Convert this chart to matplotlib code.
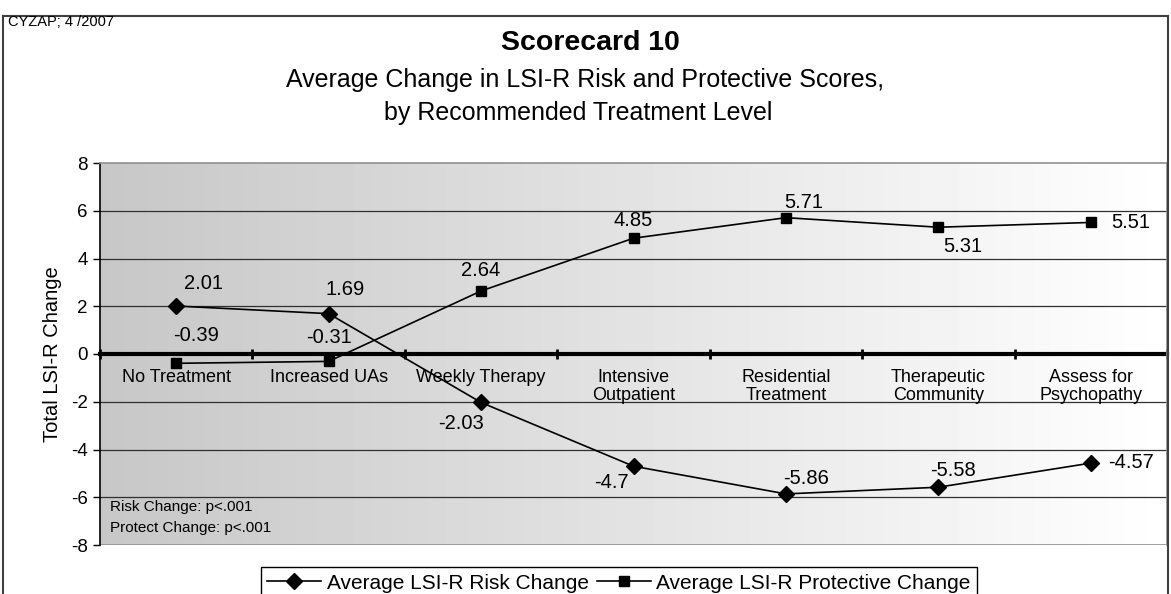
import numpy as np
import matplotlib
matplotlib.use("Agg")
from matplotlib import pyplot as plt
from matplotlib.lines import Line2D

plt.rcParams['font.family'] = ['Liberation Sans', 'DejaVu Sans']
plt.rcParams['axes.unicode_minus'] = False

# data
categories = ["No Treatment", "Increased UAs", "Weekly Therapy", "Intensive\nOutpatient",
              "Residential\nTreatment", "Therapeutic\nCommunity", "Assess for\nPsychopathy"]
risk_change = [2.01, 1.69, -2.03, -4.7, -5.86, -5.58, -4.57]
protect_change = [-0.39, -0.31, 2.64, 4.85, 5.71, 5.31, 5.51]
risk_labels = ["2.01", "1.69", "-2.03", "-4.7", "-5.86", "-5.58", "-4.57"]
protect_labels = ["-0.39", "-0.31", "2.64", "4.85", "5.71", "5.31", "5.51"]
y_ticks = [-8, -6, -4, -2, 0, 2, 4, 6, 8]

# label offsets in pixels (dx, dy)
risk_offsets = [(27, 23), (16, 24), (-20, -21), (-22, -16), (20, 15), (15, 17), (40, 1)]
protect_offsets = [(20, 28), (0, 24), (0, 20), (0, 18), (18, 15), (24, -19), (40, 0)]

fig = plt.figure(figsize=(11.71, 5.94), dpi=100)
ax = fig.add_axes([100/1171, 1-545/594, 1067/1171, 382/594])

x = np.arange(len(categories))
ax.set_xlim(-0.5, len(categories) - 0.5)
ax.set_ylim(-8, 8)

# gray to white gradient background
grad = np.linspace(0.78, 1.0, 256).reshape(1, -1)
ax.imshow(grad, extent=[-0.5, len(categories) - 0.5, -8, 8], aspect='auto',
          cmap='gray', vmin=0, vmax=1, zorder=0)

for yv in y_ticks:
    if yv not in (0, -8, 8):
        ax.axhline(yv, color='#303030', linewidth=0.9, zorder=1)
ax.axhline(-8, color='#909090', linewidth=1.2, zorder=1)

ax.plot(x, risk_change, color='black', linewidth=1.2, marker='D', markersize=8, zorder=3)
ax.plot(x, protect_change, color='black', linewidth=1.2, marker='s', markersize=7.5, zorder=3)

for xi, v, lab, (dx, dy) in zip(x, risk_change, risk_labels, risk_offsets):
    ax.annotate(lab, (xi, v), xytext=(dx, dy), textcoords='offset pixels',
                ha='center', va='center', fontsize=14.5, zorder=4)
for xi, v, lab, (dx, dy) in zip(x, protect_change, protect_labels, protect_offsets):
    ax.annotate(lab, (xi, v), xytext=(dx, dy), textcoords='offset pixels',
                ha='center', va='center', fontsize=14.5, zorder=4)

# axes styling
ax.spines['bottom'].set_position(('data', 0))
ax.spines['bottom'].set_linewidth(3)
ax.spines['bottom'].set_zorder(2)
ax.spines['left'].set_linewidth(1.2)
for s in ('top', 'right'):
    ax.spines[s].set_color('#909090')
    ax.spines[s].set_linewidth(1.2)

ax.set_yticks(y_ticks)
ax.tick_params(axis='y', direction='out', length=5, width=1, labelsize=13.5, pad=4)
ax.set_xticks(np.arange(len(categories) + 1) - 0.5)
ax.set_xticklabels([])
ax.tick_params(axis='x', which='major', direction='inout', length=7, width=2)
ax.set_xticks(x, minor=True)
ax.set_xticklabels(categories, minor=True, fontsize=13, linespacing=1.05)
ax.tick_params(axis='x', which='minor', length=0, pad=11)

ax.set_ylabel("Total LSI-R Change", fontsize=14.5, labelpad=6)

ax.text(10/1067, 0.0995, "Risk Change: p<.001", transform=ax.transAxes, fontsize=11, va='center')
ax.text(10/1067, 0.0445, "Protect Change: p<.001", transform=ax.transAxes, fontsize=11, va='center')

# titles
fig.text(590/1171, 1-43/594, "Scorecard 10", ha='center', va='center',
         fontsize=20.5, fontweight='bold')
fig.text(585/1171, 1-80/594, "Average Change in LSI-R Risk and Protective Scores,",
         ha='center', va='center', fontsize=18)
fig.text(578/1171, 1-113/594, "by Recommended Treatment Level",
         ha='center', va='center', fontsize=18)
fig.text(8/1171, 1-22/594, "CYZAP; 4 /2007", ha='left', va='center', fontsize=10.5)

# outer frame
frame_kw = dict(color='#404040', linewidth=1.5, transform=fig.transFigure)
fig.add_artist(Line2D([3/1171, 3/1171], [0, 1-16/594], **frame_kw))
fig.add_artist(Line2D([3/1171, 1168/1171], [1-16/594, 1-16/594], **frame_kw))
fig.add_artist(Line2D([1168/1171, 1168/1171], [0, 1-16/594], **frame_kw))

legend_elements = [
    Line2D([0], [0], color='black', linewidth=1.2, marker='D', markersize=8,
           label="Average LSI-R Risk Change"),
    Line2D([0], [0], color='black', linewidth=1.2, marker='s', markersize=7.5,
           label="Average LSI-R Protective Change"),
]
leg = fig.legend(handles=legend_elements, loc='upper center', bbox_to_anchor=(619/1171, 1-557/594),
                 ncol=2, fancybox=False, edgecolor='black', framealpha=1,
                 prop={'size': 15}, handlelength=2.6, handletextpad=0.25,
                 columnspacing=0.4, borderpad=0.3)
leg.get_frame().set_linewidth(1)

fig.savefig("out.png", dpi=100)
